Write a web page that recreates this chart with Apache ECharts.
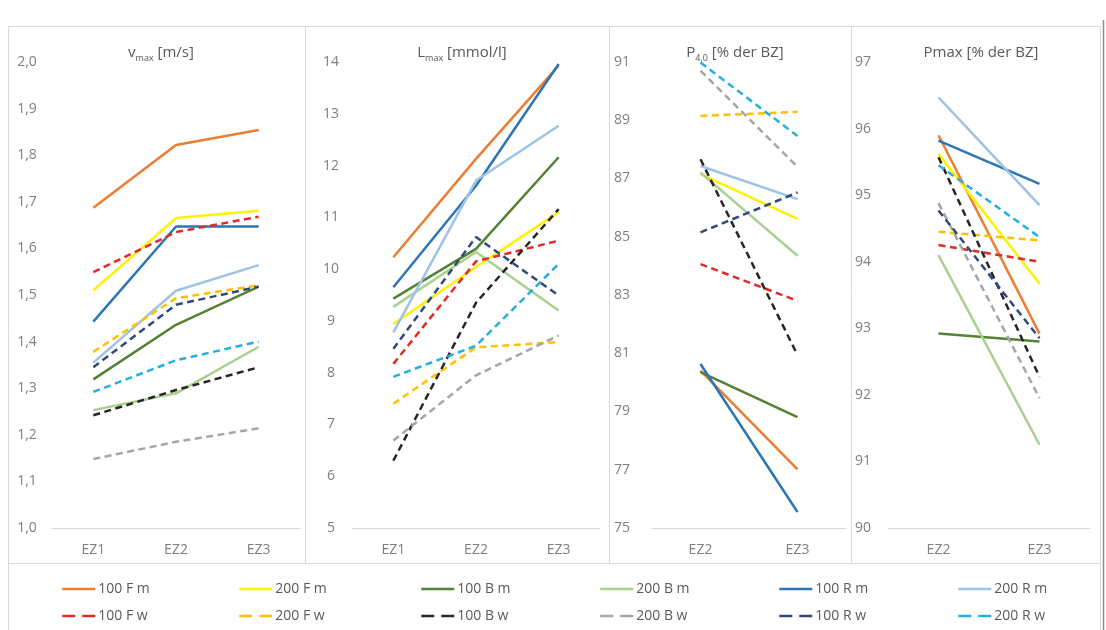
<!DOCTYPE html>
<html><head><meta charset="utf-8">
<script src="https://cdn.jsdelivr.net/npm/echarts@6/dist/echarts.min.js"></script>
<style>html,body{margin:0;padding:0;background:#fff}#c{width:1106px;height:630px}</style>
</head><body><div id="c"></div><script>
// ---- data ----
const seriesNames = ['100 F m','200 F m','100 B m','200 B m','100 R m','200 R m',
                     '100 F w','200 F w','100 B w','200 B w','100 R w','200 R w'];
const seriesColors = ['#ED7D31','#FFF200','#548235','#A9D18E','#2E75B6','#9DC3E6',
                      '#E02B2B','#FFC000','#262626','#A6A6A6','#2F4A7A','#22B0E0'];
const seriesDashed = [false,false,false,false,false,false,true,true,true,true,true,true];

const catsEZ123 = ['EZ1','EZ2','EZ3'];
const catsEZ23 = ['EZ2','EZ3'];

const vmaxTicks = ['1,0','1,1','1,2','1,3','1,4','1,5','1,6','1,7','1,8','1,9','2,0'];
const lmaxTicks = ['5','6','7','8','9','10','11','12','13','14'];
const p40Ticks  = ['75','77','79','81','83','85','87','89','91'];
const pmaxTicks = ['90','91','92','93','94','95','96','97'];

// rows follow seriesNames order
const vmaxValues = [
  [1.687,1.822,1.854],[1.510,1.665,1.681],[1.319,1.436,1.518],[1.253,1.289,1.389],
  [1.443,1.647,1.647],[1.355,1.509,1.564],[1.549,1.635,1.668],[1.378,1.493,1.521],
  [1.242,1.296,1.345],[1.148,1.185,1.214],[1.345,1.479,1.518],[1.292,1.360,1.400]
];
const lmaxValues = [
  [10.23,12.13,13.93],[8.94,10.04,11.10],[9.43,10.39,12.16],[9.27,10.33,9.20],
  [9.65,11.61,13.96],[8.78,11.71,12.77],[8.17,10.15,10.55],[7.40,8.49,8.59],
  [6.30,9.35,11.16],[6.69,7.95,8.72],[8.46,10.62,9.49],[7.92,8.52,10.10]
];
const p40Values = [
  [80.40,77.01],[87.15,85.61],[80.35,78.81],[87.20,84.35],
  [80.63,75.55],[87.43,86.29],[84.06,82.80],[89.15,89.29],
  [87.66,80.94],[90.70,87.40],[85.15,86.52],[90.98,88.46]
];
const pmaxValues = [
  [95.90,92.92],[95.62,93.67],[92.92,92.80],[94.10,91.25],
  [95.82,95.17],[96.47,94.85],[94.25,94.00],[94.45,94.32],
  [95.57,92.27],[94.88,91.95],[94.77,92.85],[95.45,94.37]
];

// ---- layout ----
const panels = [
  {left:52, width:248, cats:catsEZ123, min:1.0, max:2.0, interval:0.1, ticks:vmaxTicks, values:vmaxValues, margin:25, tx:156, title:'{n|v}{s|max}{n| [m/s]}'},
  {left:352, width:248, cats:catsEZ123, min:5, max:14, interval:1, ticks:lmaxTicks, values:lmaxValues, margin:21, tx:457, title:'{n|L}{s|max}{n| [mmol/l]}'},
  {left:652, width:194, cats:catsEZ23, min:75, max:91, interval:2, ticks:p40Ticks, values:p40Values, margin:30, tx:730, title:'{n|P}{s|4,0}{n| [% der BZ]}'},
  {left:888, width:202, cats:catsEZ23, min:90, max:97, interval:1, ticks:pmaxTicks, values:pmaxValues, margin:25, tx:976, title:'{n|Pmax [% der BZ]}'}
];
const FONT = '"Open Sans", "Noto Sans", sans-serif';
const GRID_TOP = 62, GRID_H = 466;

const grid = [], xAxis = [], yAxis = [], series = [], title = [];
panels.forEach((p, pi) => {
  grid.push({left:p.left, top:GRID_TOP, width:p.width, height:GRID_H});
  xAxis.push({type:'category', gridIndex:pi, data:p.cats, boundaryGap:true,
    axisLine:{lineStyle:{color:'#d9d9d9', width:1}}, axisTick:{show:false},
    axisLabel:{color:'#7f7f7f', fontFamily:FONT, fontSize:14, margin:15}});
  yAxis.push({type:'value', gridIndex:pi, min:p.min, max:p.max, interval:p.interval,
    axisLine:{show:false}, axisTick:{show:false}, splitLine:{show:false},
    axisLabel:{color:'#7f7f7f', fontFamily:FONT, fontSize:14, margin:p.margin, align:'center',
      formatter:(v)=>p.ticks[Math.round((v-p.min)/p.interval)]}});
  title.push({text:p.title, left:p.tx, top:38, textAlign:'center',
    textStyle:{fontWeight:'normal', rich:{
      n:{fontFamily:FONT, fontSize:15, fontWeight:'normal', color:'#595959', lineHeight:20, verticalAlign:'middle'},
      s:{fontFamily:FONT, fontSize:9, fontWeight:'normal', color:'#595959', lineHeight:9, verticalAlign:'bottom'}
    }}});
  seriesNames.forEach((name, si) => {
    series.push({type:'line', name, xAxisIndex:pi, yAxisIndex:pi, data:p.values[si],
      symbol:'none', silent:true, animation:false,
      lineStyle:{color:seriesColors[si], width:2.5, type:seriesDashed[si]?[7,4.5]:'solid', cap:'butt'},
      itemStyle:{color:seriesColors[si]}});
  });
});

// legends: one per item, 6 columns x 2 rows
const legendColX = [61, 238, 420, 599, 778, 957];
const legendRowY = [582, 609];
const legend = seriesNames.map((name, si) => ({
  data:[name], left:legendColX[si % 6], top:legendRowY[Math.floor(si / 6)],
  padding:0, itemWidth:33, itemHeight:14, selectedMode:false,
  itemStyle:{opacity:0, borderWidth:0},
  textStyle:{color:'#595959', fontFamily:FONT, fontSize:14, padding:[0,0,0,-2]},
  lineStyle:seriesDashed[si] ? {type:[13,7], width:2.5, opacity:1} : {width:2.5, opacity:1}
}));

const line = (x1,y1,x2,y2,color,w) => ({type:'line', silent:true,
  shape:{x1,y1,x2,y2}, style:{stroke:color||'#d9d9d9', lineWidth:w||1}});

const chart = echarts.init(document.getElementById('c'), null, {renderer:'canvas'});
chart.setOption({
  backgroundColor:'#ffffff',
  animation:false,
  title, grid, xAxis, yAxis, series, legend,
  graphic:[
    {type:'rect', silent:true, shape:{x:8.5, y:26.5, width:1092, height:620}, style:{fill:null, stroke:'#d9d9d9', lineWidth:1}},
    line(305.5, 26, 305.5, 563),
    line(609.5, 26, 609.5, 563),
    line(851.5, 26, 851.5, 563),
    line(8, 563.5, 1100, 563.5),
    line(1103.5, 20, 1103.5, 630, '#8c8c8c', 1.5)
  ]
});
</script></body></html>
